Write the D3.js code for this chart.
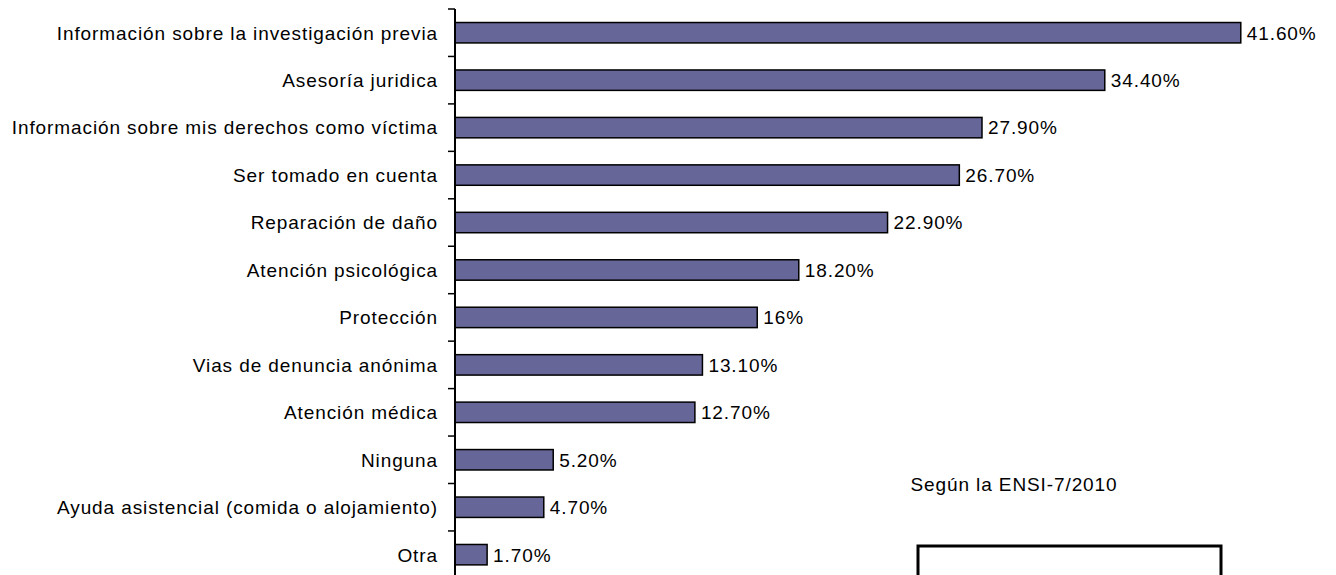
<!DOCTYPE html>
<html><head><meta charset="utf-8">
<script src="https://d3js.org/d3.v7.min.js"></script>
<style>body{margin:0;background:#fff}svg{display:block}text{font-family:"Liberation Sans",Arial,sans-serif}</style>
</head><body>
<svg id="c" width="1336" height="575"></svg>
<script>
const categories = ["Información sobre la investigación previa","Asesoría juridica","Información sobre mis derechos como víctima","Ser tomado en cuenta","Reparación de daño","Atención psicológica","Protección","Vias de denuncia anónima","Atención médica","Ninguna","Ayuda asistencial (comida o alojamiento)","Otra"];
const values = [41.6,34.4,27.9,26.7,22.9,18.2,16,13.1,12.7,5.2,4.7,1.7];
const valueLabels = ["41.60%","34.40%","27.90%","26.70%","22.90%","18.20%","16%","13.10%","12.70%","5.20%","4.70%","1.70%"];
const note = "Según la ENSI-7/2010";

const svg = d3.select("#c");
const x0 = 455, yTop = 9, step = 47.45;
const fs = 19, ls = 0.9;
const x = d3.scaleLinear().domain([0,45]).range([x0, x0+850]);
const y = d3.scaleBand().domain(categories).range([yTop, yTop+step*categories.length]).paddingInner(0.57).paddingOuter(0.285);

const g = svg.append("g");
g.selectAll("rect.bar").data(values).join("rect")
  .attr("x", x(0)).attr("y",(d,i)=>y(categories[i]))
  .attr("width", d=>x(d)-x(0)).attr("height", y.bandwidth())
  .attr("fill","#666699").attr("stroke","#000").attr("stroke-width",1.5);

g.selectAll("text.val").data(values).join("text")
  .attr("x", d=>x(d)+6).attr("y",(d,i)=>y(categories[i])+y.bandwidth()/2)
  .attr("dy","0.36em").attr("font-size",fs).attr("letter-spacing",ls).attr("fill","#000")
  .text((d,i)=>valueLabels[i]);

g.selectAll("text.cat").data(categories).join("text")
  .attr("x", x0-17).attr("y", d=>y(d)+y.bandwidth()/2)
  .attr("dy","0.36em").attr("text-anchor","end").attr("font-size",fs).attr("letter-spacing",ls).attr("fill","#000")
  .text(d=>d);

g.append("line").attr("x1",x0).attr("x2",x0).attr("y1",yTop).attr("y2",yTop+step*categories.length)
  .attr("stroke","#000").attr("stroke-width",2);
const bounds = d3.range(categories.length+1).map(i=>yTop+i*step);
g.selectAll("line.tick").data(bounds).join("line")
  .attr("x1",x0-7).attr("x2",x0).attr("y1",d=>d).attr("y2",d=>d)
  .attr("stroke","#000").attr("stroke-width",1.5);

svg.append("text").attr("x",1014).attr("y",491).attr("text-anchor","middle")
  .attr("font-size",fs).attr("letter-spacing",ls).text(note);
svg.append("rect").attr("x",918).attr("y",546).attr("width",303).attr("height",60)
  .attr("fill","none").attr("stroke","#000").attr("stroke-width",3);
</script>
</body></html>
